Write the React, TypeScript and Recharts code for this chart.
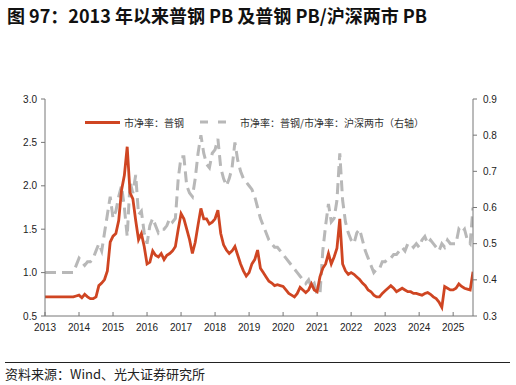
import { LineChart, Line, XAxis, YAxis } from "recharts"

const START_YEAR = 2013
const yearTicks = [2013, 2014, 2015, 2016, 2017, 2018, 2019, 2020, 2021, 2022, 2023, 2024, 2025]
const leftTicks = [0.5, 1.0, 1.5, 2.0, 2.5, 3.0]
const rightTicks = [0.3, 0.4, 0.5, 0.6, 0.7, 0.8, 0.9]

// monthly readings, 2013-01 .. 2025-08
const steelPB = [
  0.72, 0.72, 0.72, 0.72, 0.72, 0.72, 0.72, 0.72, 0.72, 0.72, 0.72, 0.73,
  0.74, 0.71, 0.75, 0.72, 0.70, 0.70, 0.72, 0.85, 0.88, 0.92, 1.02, 1.35,
  1.42, 1.45, 1.60, 1.95, 2.12, 2.45, 1.92, 1.85, 1.60, 1.38, 1.45, 1.30,
  1.10, 1.12, 1.25, 1.20, 1.18, 1.22, 1.15, 1.20, 1.22, 1.25, 1.30, 1.50,
  1.68, 1.62, 1.50, 1.38, 1.22, 1.35, 1.55, 1.74, 1.62, 1.62, 1.56, 1.58,
  1.62, 1.72, 1.45, 1.32, 1.26, 1.22, 1.25, 1.30, 1.20, 1.10, 1.02, 0.96,
  1.00, 1.10, 1.15, 1.26, 1.05, 1.00, 0.95, 0.90, 0.88, 0.85, 0.86, 0.85,
  0.84, 0.80, 0.76, 0.74, 0.72, 0.76, 0.83, 0.80, 0.77, 0.80, 0.87, 0.80,
  0.78, 0.95, 1.05, 1.10, 1.22, 1.10, 1.18, 1.28, 1.62, 1.10, 1.02, 0.98,
  1.00, 0.98, 0.95, 0.92, 0.88, 0.85, 0.80, 0.78, 0.74, 0.72, 0.72, 0.76,
  0.79, 0.82, 0.85, 0.82, 0.78, 0.80, 0.82, 0.80, 0.78, 0.78, 0.76, 0.76,
  0.75, 0.74, 0.76, 0.77, 0.75, 0.72, 0.70, 0.66, 0.60, 0.84, 0.82, 0.80,
  0.80, 0.82, 0.87, 0.84, 0.82, 0.81, 0.80, 1.01,
]

const steelVsMarket = [
  0.42, 0.42, 0.42, 0.42, 0.42, 0.42, 0.42, 0.42, 0.42, 0.42, 0.42, 0.44,
  0.46, 0.45, 0.44, 0.45, 0.45, 0.46, 0.48, 0.50, 0.48, 0.53, 0.58, 0.63,
  0.57, 0.59, 0.63, 0.66, 0.60, 0.52, 0.67, 0.64, 0.69, 0.58, 0.59, 0.53,
  0.50, 0.55, 0.57, 0.55, 0.53, 0.54, 0.54, 0.55, 0.57, 0.56, 0.57, 0.68,
  0.74, 0.74, 0.66, 0.64, 0.63, 0.68, 0.75, 0.80, 0.75, 0.72, 0.71, 0.75,
  0.76, 0.79, 0.71, 0.68, 0.66, 0.68, 0.71, 0.78, 0.73, 0.70, 0.68, 0.67,
  0.66, 0.65, 0.63, 0.60, 0.57, 0.55, 0.53, 0.51, 0.50, 0.49, 0.49, 0.48,
  0.47, 0.46, 0.45, 0.44, 0.43, 0.42, 0.41, 0.40, 0.39, 0.40, 0.38, 0.39,
  0.36, 0.36, 0.48, 0.55, 0.61, 0.56, 0.57, 0.62, 0.75, 0.62, 0.56, 0.53,
  0.51, 0.50, 0.53, 0.54, 0.51, 0.48, 0.46, 0.44, 0.42, 0.43, 0.43, 0.45,
  0.45, 0.46, 0.46, 0.47, 0.47, 0.48, 0.49, 0.48, 0.50, 0.50, 0.49, 0.50,
  0.49, 0.51, 0.52, 0.50, 0.51, 0.50, 0.49, 0.48, 0.50, 0.49, 0.51, 0.50,
  0.50, 0.50, 0.54, 0.53, 0.54, 0.51, 0.50, 0.60,
]

const RED = "#cf4522"
const GREY = "#b8b8b8"
const AXIS = "#777"
const CJK = '"Noto Sans CJK SC", "Noto Sans", sans-serif'

const chartData = steelPB.map((pb, i) => ({
  t: START_YEAR + i / 12,
  pb,
  ratio: steelVsMarket[i],
}))

const tickStyle = { fontSize: 10, fill: "#222", fontFamily: "Liberation Sans, Arial, sans-serif" }

export default function App() {
  return (
    <div style={{ position: "absolute", left: 0, top: 0, width: 516, height: 385, background: "#fff", overflow: "hidden" }}>
      <div style={{ position: "absolute", left: 7, top: 3, fontSize: 18, fontWeight: 700, fontFamily: CJK, color: "#111", lineHeight: "24px", whiteSpace: "nowrap" }}>
        图 97：2013 年以来普钢 PB 及普钢 PB/沪深两市 PB
      </div>

      <div style={{ position: "absolute", left: 0, top: 0 }}>
        <LineChart width={516} height={345} data={chartData} margin={{ top: 99, right: 3, bottom: 4, left: 5 }}>
          <XAxis
            dataKey="t"
            type="number"
            domain={[2013, 2025.583]}
            ticks={yearTicks}
            tick={tickStyle}
            tickSize={-4}
            tickMargin={12}
            height={25}
            axisLine={{ stroke: AXIS }}
            tickLine={{ stroke: AXIS }}
            allowDataOverflow
          />
          <YAxis
            yAxisId="left"
            domain={[0.5, 3.0]}
            ticks={leftTicks}
            tickFormatter={(v: number) => v.toFixed(1)}
            tick={tickStyle}
            tickSize={4}
            tickMargin={4}
            width={40}
            axisLine={{ stroke: AXIS }}
            tickLine={{ stroke: AXIS }}
          />
          <YAxis
            yAxisId="right"
            orientation="right"
            domain={[0.3, 0.9]}
            ticks={rightTicks}
            tickFormatter={(v: number) => v.toFixed(1)}
            tick={{ ...tickStyle, textAnchor: "start" }}
            tickSize={4}
            tickMargin={6}
            width={40}
            axisLine={{ stroke: AXIS }}
            tickLine={{ stroke: AXIS }}
          />
          <Line
            yAxisId="right"
            dataKey="ratio"
            type="linear"
            stroke={GREY}
            strokeWidth={3}
            strokeDasharray="11 6"
            dot={false}
            isAnimationActive={false}
          />
          <Line
            yAxisId="left"
            dataKey="pb"
            type="linear"
            stroke={RED}
            strokeWidth={2.8}
            dot={false}
            isAnimationActive={false}
          />
        </LineChart>
      </div>

      <div style={{ position: "absolute", left: 85, top: 115, height: 14, display: "flex", alignItems: "center", fontFamily: CJK, fontSize: 10, color: "#333", whiteSpace: "nowrap" }}>
        <span style={{ display: "inline-block", width: 35, height: 3, background: RED, marginRight: 4 }} />
        <span>市净率：普钢</span>
        <svg width={30} height={4} style={{ marginLeft: 16, marginRight: 10 }}>
          <line x1={0} y1={2} x2={30} y2={2} stroke={GREY} strokeWidth={3} strokeDasharray="8 10" />
        </svg>
        <span>市净率：普钢/市净率：沪深两市（右轴）</span>
      </div>

      <div style={{ position: "absolute", left: 5, top: 362, width: 505, height: 1, background: "#222" }} />
      <div style={{ position: "absolute", left: 5, top: 365, fontSize: 13, fontFamily: CJK, color: "#222", lineHeight: "17px", whiteSpace: "nowrap" }}>
        资料来源：Wind、光大证券研究所
      </div>
    </div>
  )
}
